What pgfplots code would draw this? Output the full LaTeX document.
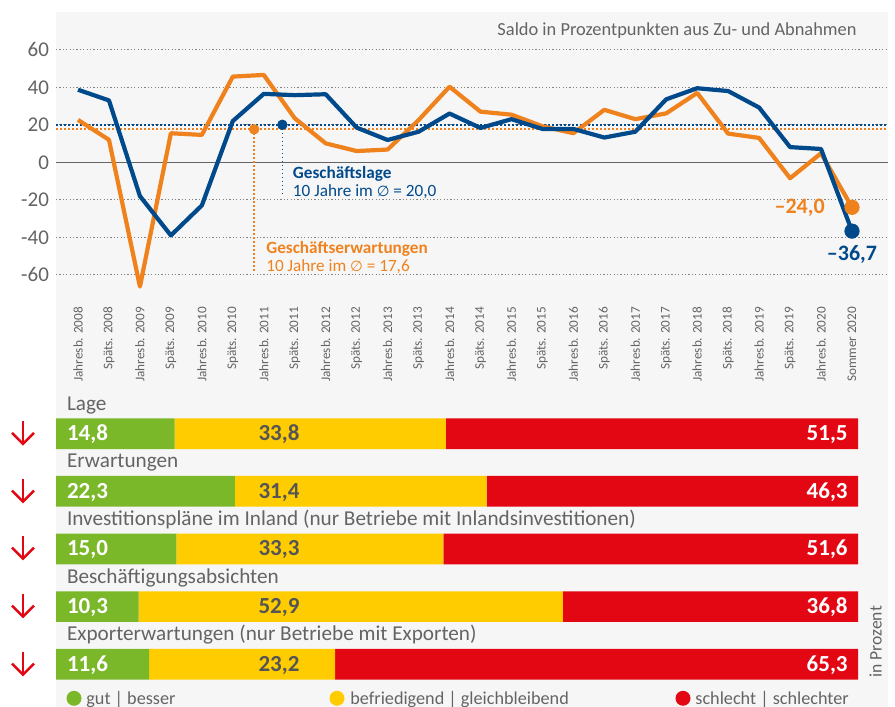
\documentclass[border=0pt]{standalone}
\usepackage{fontspec}
\setmainfont{Carlito}
\newfontfamily\symfont{DejaVu Sans}
\usepackage{pgfplots}
\pgfplotsset{compat=1.18}
\usetikzlibrary{arrows.meta}
\definecolor{cblue}{RGB}{0,74,140}
\definecolor{corange}{RGB}{240,130,30}
\definecolor{cgreen}{RGB}{122,184,42}
\definecolor{cyellow}{RGB}{255,204,0}
\definecolor{cred}{RGB}{227,6,19}
\definecolor{cbg}{RGB}{246,246,246}
\definecolor{cgray}{RGB}{100,100,100}
\definecolor{cdark}{RGB}{85,85,85}
\definecolor{cgrid}{RGB}{130,130,130}
\newcommand{\avg}{{\symfont\scalebox{0.85}{∅}}}
\tikzset{
  catlab/.style={anchor=base west, inner sep=0, text=cgray, font=\fontsize{10.6}{12}\selectfont},
  glab/.style={anchor=base west, inner sep=0, text=white, font=\bfseries\fontsize{11.5}{12}\selectfont},
  ylab/.style={anchor=base, inner sep=0, text=cdark, font=\bfseries\fontsize{11.5}{12}\selectfont},
  rlab/.style={anchor=base east, inner sep=0, text=white, font=\bfseries\fontsize{11.5}{12}\selectfont},
  leglab/.style={anchor=base west, inner sep=0, text=cgray, font=\fontsize{9.1}{11}\selectfont},
}
\begin{document}
\begin{tikzpicture}
\useasboundingbox (0pt,0pt) rectangle (447.5pt,353.5pt);
\fill[cbg] (28pt,0pt) rectangle (444pt,347.5pt);
% ---------------- line chart ----------------
\begin{axis}[
  at={(28pt,206.725pt)}, anchor=south west,
  scale only axis, width=416pt, height=140.625pt,
  xmin=-0.711, xmax=26.163, ymin=-70, ymax=80,
  axis line style={draw=none}, tick style={draw=none},
  ytick={-60,-40,-20,0,20,40,60},
  yticklabels={-60,-40,-20,0,20,40,60},
  yticklabel style={font=\fontsize{10.5}{12}\selectfont, text=cgray},
  ymajorgrids, major grid style={cgrid, line width=0.5pt, dash pattern=on 0.6pt off 1.1pt},
  extra y ticks={0}, extra y tick labels={},
  extra y tick style={grid=major, major grid style={solid, cgray, line width=0.6pt}},
  xtick={0,...,25},
  xticklabels={Jahresb. 2008, Späts. 2008, Jahresb. 2009, Späts. 2009, Jahresb. 2010, Späts. 2010, Jahresb. 2011, Späts. 2011, Jahresb. 2012, Späts. 2012, Jahresb. 2013, Späts. 2013, Jahresb. 2014, Späts. 2014, Jahresb. 2015, Späts. 2015, Jahresb. 2016, Späts. 2016, Jahresb. 2017, Späts. 2017, Jahresb. 2018, Späts. 2018, Jahresb. 2019, Späts. 2019, Jahresb. 2020, Sommer 2020},
  xticklabel style={rotate=90, anchor=east, font=\fontsize{6.6}{7}\selectfont, text=cgray, inner sep=0pt},
  xticklabel shift=6.5pt,
  clip=false,
]
% averages
\addplot[cblue, line width=1pt, dash pattern=on 1pt off 1pt, forget plot] coordinates {(-0.711,20) (26.163,20)};
\addplot[corange, line width=1pt, dash pattern=on 1pt off 1pt, forget plot] coordinates {(-0.711,17.6) (26.163,17.6)};
\addplot[corange, line width=0.8pt, dash pattern=on 0.8pt off 1.2pt] coordinates {(5.69,17.6) (5.69,-58.3)};
\addplot[cblue, line width=0.8pt, dash pattern=on 0.8pt off 1.2pt] coordinates {(6.60,20) (6.60,-18.3)};
\addplot[corange, only marks, mark=*, mark size=2.4pt] coordinates {(5.69,17.6)};
\addplot[cblue, only marks, mark=*, mark size=2.4pt] coordinates {(6.60,20)};
% series
\addplot[corange, line width=2.1pt, line join=round] coordinates {
(0,22.6) (1,12) (2,-66.3) (3,15.5) (4,14.6) (5,45.7) (6,46.6) (7,23.5) (8,10.1) (9,6) (10,6.8) (11,22.5) (12,40.3) (13,27) (14,25.4) (15,19.2) (16,15.5) (17,28) (18,23) (19,26.1) (20,37) (21,15.3) (22,13) (23,-8.5) (24,4.8) (25,-24.0)};
\addplot[cblue, line width=2.1pt, line join=round] coordinates {
(0,38.7) (1,33) (2,-18) (3,-39) (4,-23) (5,22) (6,36.5) (7,35.8) (8,36.3) (9,18.5) (10,11.9) (11,16.3) (12,26) (13,18.3) (14,23) (15,17.8) (16,17.8) (17,13.2) (18,16.3) (19,33.6) (20,39.5) (21,38) (22,29.2) (23,8.1) (24,7.1) (25,-36.7)};
\addplot[corange, only marks, mark=*, mark size=3.6pt] coordinates {(25,-24.0)};
\addplot[cblue, only marks, mark=*, mark size=3.6pt] coordinates {(25,-36.7)};
% texts
\node[anchor=base west, inner sep=0, text=cblue, font=\bfseries\fontsize{8.6}{10}\selectfont] at (axis cs:6.93,-8.5) {Geschäftslage};
\node[anchor=base west, inner sep=0, text=cblue, font=\fontsize{8.6}{10}\selectfont] at (axis cs:6.93,-18.0) {10 Jahre im \avg{} = 20,0};
\node[anchor=base west, inner sep=0, text=corange, font=\bfseries\fontsize{8.6}{10}\selectfont] at (axis cs:6.07,-48.5) {Geschäftserwartungen};
\node[anchor=base west, inner sep=0, text=corange, font=\fontsize{8.6}{10}\selectfont] at (axis cs:6.07,-58.3) {10 Jahre im \avg{} = 17,6};
\node[anchor=east, inner sep=0, text=corange, font=\bfseries\fontsize{11}{12}\selectfont] at (axis cs:24.13,-24) {–24,0};
\node[anchor=center, inner sep=0, text=cblue, font=\bfseries\fontsize{11}{12}\selectfont] at (axis cs:25.0,-49.4) {–36,7};
\end{axis}
\node[anchor=base east, inner sep=0, text=cgray, font=\fontsize{9.2}{11}\selectfont] at (428.5pt,335.5pt) {Saldo in Prozentpunkten aus Zu- und Abnahmen};
% ---------------- bars ----------------
\begin{axis}[
  at={(28pt,6.95pt)}, anchor=south west,
  scale only axis, width=401pt, height=144.125pt,
  xbar stacked, bar width=15.35pt,
  xmin=0, xmax=100, ymin=0.5, ymax=5.5, y dir=reverse,
  hide axis, clip=false,
]
\addplot[fill=cgreen, draw=none] coordinates {(14.8,1) (22.3,2) (15.0,3) (10.3,4) (11.6,5)};
\addplot[fill=cyellow, draw=none] coordinates {(33.8,1) (31.4,2) (33.3,3) (52.9,4) (23.2,5)};
\addplot[fill=cred, draw=none] coordinates {(51.4,1) (46.3,2) (51.7,3) (36.8,4) (65.2,5)};
\node[catlab] at (axis cs:1.33,0.595) {Lage};
\node[catlab] at (axis cs:1.33,1.595) {Erwartungen};
\node[catlab] at (axis cs:1.33,2.595) {Investitionspläne im Inland (nur Betriebe mit Inlandsinvestitionen)};
\node[catlab] at (axis cs:1.33,3.595) {Beschäftigungsabsichten};
\node[catlab] at (axis cs:1.33,4.595) {Exporterwartungen (nur Betriebe mit Exporten)};
\coordinate (g1) at (axis cs:1.33,1.12);
\coordinate (g2) at (axis cs:1.33,2.12);
\coordinate (g3) at (axis cs:1.33,3.12);
\coordinate (g4) at (axis cs:1.33,4.12);
\coordinate (g5) at (axis cs:1.33,5.12);
\coordinate (y1) at (axis cs:27.8,1.12);
\coordinate (y2) at (axis cs:27.8,2.12);
\coordinate (y3) at (axis cs:27.8,3.12);
\coordinate (y4) at (axis cs:27.8,4.12);
\coordinate (y5) at (axis cs:27.8,5.12);
\coordinate (r1) at (axis cs:98.75,1.12);
\coordinate (r2) at (axis cs:98.75,2.12);
\coordinate (r3) at (axis cs:98.75,3.12);
\coordinate (r4) at (axis cs:98.75,4.12);
\coordinate (r5) at (axis cs:98.75,5.12);
\end{axis}
\node[glab] at (g1) {14,8};
\node[glab] at (g2) {22,3};
\node[glab] at (g3) {15,0};
\node[glab] at (g4) {10,3};
\node[glab] at (g5) {11,6};
\node[ylab] at (y1) {33,8};
\node[ylab] at (y2) {31,4};
\node[ylab] at (y3) {33,3};
\node[ylab] at (y4) {52,9};
\node[ylab] at (y5) {23,2};
\node[rlab] at (r1) {51,5};
\node[rlab] at (r2) {46,3};
\node[rlab] at (r3) {51,6};
\node[rlab] at (r4) {36,8};
\node[rlab] at (r5) {65,3};
% arrows
\foreach \c in {136.65,107.85,79.25,50.35,21.35}{
  \draw[cred, line width=1.25pt, -{Straight Barb[length=5.5pt, width=11pt]}] (11.5pt,\c pt+6.3pt) -- (11.5pt,\c pt-6pt);
}
% legend
\fill[cgreen] (37pt,4.35pt) circle (3.75pt);
\node[leglab] at (43pt,1.4pt) {gut | besser};
\fill[cyellow] (168.5pt,4.35pt) circle (3.75pt);
\node[leglab] at (175pt,1.4pt) {befriedigend | gleichbleibend};
\fill[cred] (341.5pt,4.35pt) circle (3.75pt);
\node[leglab] at (347.5pt,1.4pt) {schlecht | schlechter};
\node[rotate=90, anchor=base west, inner sep=0, text=cgray, font=\fontsize{8.8}{11}\selectfont] at (440.8pt,14.5pt) {in Prozent};
\end{tikzpicture}
\end{document}
